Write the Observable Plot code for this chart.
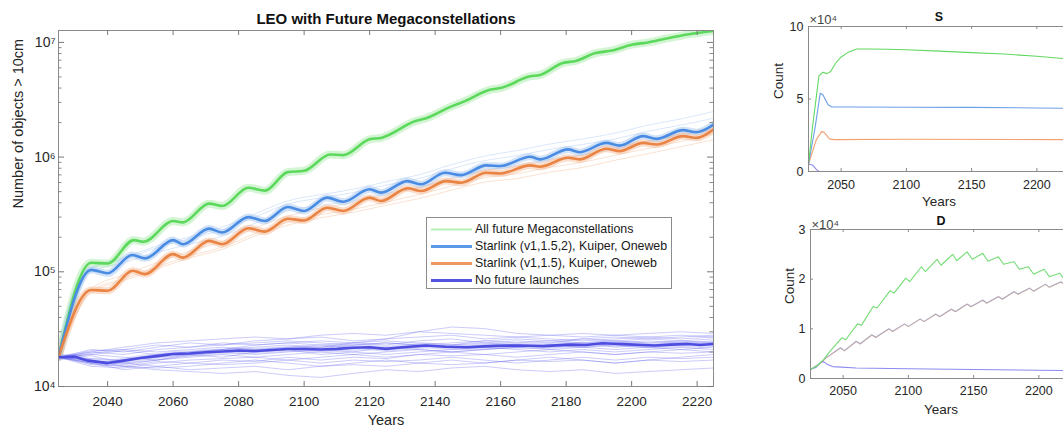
<!DOCTYPE html>
<html><head><meta charset="utf-8">
<script src="https://cdn.jsdelivr.net/npm/d3@7"></script>
<script src="https://cdn.jsdelivr.net/npm/@observablehq/plot@0.6"></script>
<style>
html,body{margin:0;padding:0;background:#fff;overflow:hidden;}
#root{position:relative;width:1063px;height:428px;overflow:hidden;font-family:"Liberation Sans",Arial,sans-serif;}
.pane{position:absolute;}
.pane svg{max-width:none !important;display:block;}
.legend{position:absolute;left:426px;top:217px;width:246px;height:72px;border:1px solid #8c8c8c;background:#fff;box-sizing:border-box;font-size:12.4px;color:#1a1a1a;}
.legend .row{position:absolute;left:4px;height:17px;line-height:17px;white-space:nowrap;display:flex;align-items:center;}
.legend .row svg{margin-right:3px;}
</style></head><body><div id="root"></div>
<script>
// ---------- DATA: main chart (LEO with Future Megaconstellations) ----------
const greenYears  = [2025,2035,2040,2048,2051,2060,2063,2071,2075,2083,2088,2095,2100,2108,2112,2120,2123.5,2134,2137,2145,2148.5,2157,2160,2169,2172,2179,2183,2189,2194,2200,2205,2210,2217,2225];
const greenValues = [1.8e4,1.2e5,1.18e5,1.89e5,1.83e5,2.77e5,2.7e5,3.93e5,3.75e5,5.4e5,5.1e5,7.4e5,7.6e5,1.055e6,1.04e6,1.43e6,1.47e6,2.06e6,2.17e6,2.77e6,3.03e6,3.88e6,4.0e6,5.06e6,5.2e6,6.6e6,6.9e6,8.07e6,8.5e6,9.55e6,1.0e7,1.07e7,1.17e7,1.26e7];

const blueYears  = [2025,2035,2040,2047.5,2051.5,2060,2063,2071,2075,2083,2088,2095,2100,2107,2112,2120,2123.5,2131.5,2135.7,2143,2148,2155.6,2160,2169,2172,2180.6,2184,2192.3,2196.3,2203.5,2207.6,2215.7,2219.8,2225];
const blueValues = [1.8e4,1.04e5,9.7e4,1.4e5,1.31e5,1.89e5,1.74e5,2.38e5,2.2e5,3.0e5,2.77e5,3.67e5,3.39e5,4.43e5,4.08e5,5.24e5,4.9e5,6.18e5,5.79e5,7.31e5,6.97e5,8.47e5,8.36e5,1.007e6,9.55e5,1.167e6,1.104e6,1.33e6,1.26e6,1.524e6,1.442e6,1.718e6,1.648e6,1.92e6];

const orangeYears  = [2025,2035,2040,2047.7,2051.4,2060,2063,2071,2075,2083,2088,2095,2100,2107,2112,2120,2123.5,2131.6,2135.7,2143.3,2148,2155.6,2160,2169,2172,2180.6,2184,2192.3,2196.3,2203.5,2207.6,2215.7,2219.8,2225];
const orangeValues = [1.8e4,6.93e4,6.84e4,1.02e5,9.55e4,1.426e5,1.33e5,1.86e5,1.74e5,2.4e5,2.24e5,2.9e5,2.8e5,3.62e5,3.39e5,4.43e5,4.14e5,5.35e5,5.06e5,6.18e5,5.98e5,7.31e5,7.2e5,8.47e5,8.24e5,9.86e5,9.55e5,1.183e6,1.127e6,1.33e6,1.288e6,1.524e6,1.472e6,1.74e6];

const purpleYears  = [2025,2030,2034,2040,2045,2050,2055,2060,2065,2070,2075,2080,2085,2090,2095,2100,2105,2110,2115,2120,2125,2130,2137,2143,2150,2158,2166,2173,2181,2186,2191,2199,2207,2212,2217,2221,2225];
const purpleValues = [1.8e4,1.82e4,1.68e4,1.6e4,1.68e4,1.77e4,1.84e4,1.92e4,1.94e4,1.99e4,2.02e4,2.06e4,2.04e4,2.08e4,2.12e4,2.13e4,2.1e4,2.13e4,2.18e4,2.2e4,2.13e4,2.2e4,2.28e4,2.22e4,2.2e4,2.26e4,2.28e4,2.25e4,2.32e4,2.3e4,2.38e4,2.33e4,2.28e4,2.32e4,2.35e4,2.3e4,2.35e4];

// individual Monte-Carlo runs (faint lines), read approximately
const ensYears = [2025,2035,2045,2055,2065,2075,2085,2095,2105,2115,2125,2135,2145,2155,2165,2175,2185,2195,2205,2215,2225];
const blueRuns = [
  [1.8e4,1.08e5,1.33e5,1.68e5,2.02e5,2.45e5,3.2e5,4.15e5,4.7e5,5.25e5,6.1e5,7.0e5,8.6e5,1.02e6,1.14e6,1.3e6,1.44e6,1.62e6,1.9e6,2.15e6,2.5e6],
  [1.8e4,1.06e5,1.29e5,1.62e5,1.95e5,2.32e5,3.0e5,3.9e5,4.4e5,4.9e5,5.7e5,6.5e5,7.9e5,9.3e5,1.03e6,1.17e6,1.29e6,1.44e6,1.68e6,1.9e6,2.18e6],
  [1.8e4,1.0e5,1.2e5,1.47e5,1.74e5,2.05e5,2.65e5,3.4e5,3.8e5,4.15e5,4.8e5,5.45e5,6.6e5,7.7e5,8.5e5,9.6e5,1.05e6,1.17e6,1.37e6,1.54e6,1.76e6]
];
const orangeRuns = [
  [1.8e4,6.6e4,8.4e4,1.06e5,1.32e5,1.57e5,2.05e5,2.55e5,2.95e5,3.3e5,3.8e5,4.35e5,5.15e5,6.05e5,6.5e5,7.4e5,8.1e5,9.4e5,1.07e6,1.23e6,1.42e6],
  [1.8e4,6.8e4,8.7e4,1.1e5,1.38e5,1.64e5,2.15e5,2.7e5,3.15e5,3.5e5,4.05e5,4.7e5,5.6e5,6.6e5,7.15e5,8.15e5,9.0e5,1.04e6,1.19e6,1.37e6,1.59e6],
  [1.8e4,7.1e4,9.4e4,1.2e5,1.52e5,1.83e5,2.42e5,3.05e5,3.6e5,4.0e5,4.65e5,5.4e5,6.45e5,7.6e5,8.3e5,9.4e5,1.04e6,1.21e6,1.38e6,1.59e6,1.84e6]
];
// purple runs in thousands of objects
const purpleRunsK = [
  [18,20,22,24,25,26,27,26,28,29,28,30,29,28,27,28,29,28,29,30,29],
  [18,17,15,14,13.5,13,13.5,12.5,12,13,14,13.5,14.5,15,14,13.5,14,13,13.5,14,14.5],
  [18,16,17,19,20,21,22,23,22,24,25,24,23,25,26,25,24,25,26,25,26],
  [18,19,18,17,18,19,18,19,20,19,18,19,20,19,20,21,20,19,20,21,20],
  [18,15,14.5,16,17,17.5,18,17,18,19,20,21,20,21,22,21,22,23,22,21,22],
  [18,21,20,22,24,23,25,26,27,25,26,30,33,32,29,28,27,28,27,26,27],
  [18,16.5,16,15,16,15.5,16,17,16,17,16.5,17,18,17,16,17,18,17,18,17.5,18],
  [18,19.5,21,20,21,22,21,22,23,22,21,22,23,24,23,22,23,24,25,24,25],
  [18,17,15.5,17,18.5,20,19,20,21,20,22,21,20,21,22,23,24,22,23,24,23],
  [18,16,14,15,14,14.5,15,14,15,15.5,15,16,15.5,16,17,16.5,17,16,17,16.5,17],
  [18,20,19,21,22,24,23,24,23,24,23,25,26,24,25,24,26,27,26,27,28],
  [18,17.5,17,18,19,18,20,21,19,20,19,20,21,22,21,20,21,20,21,22,21],
  [18,18.5,16,17,19,21,20,21,22,23,24,23,22,23,22,23,22,21,22,23,24],
  [18,15.5,15,16.5,16,17,16.5,18,17,18,17.5,19,18.5,19,18,19,20,19,20,19.5,20],
  [18,19,20.5,19,20,21,23,24,25,24,26,27,28,26,27,26,25,26,27,28,27],
  [18,16,15,14.5,15,16,17,16,15,16,17,16,17,16,17,18,17,16,17,18,19],
  [18,20.5,21,23,22,23,24,25,24,23,24,23,24,25,24,25,26,25,24,25,24]
];

const xTicksMain = [2040,2060,2080,2100,2120,2140,2160,2180,2200,2220];
const yTicksMain = [1e4,1e5,1e6,1e7];
const legendLabels = ["All future Megaconstellations","Starlink (v1,1.5,2), Kuiper, Oneweb","Starlink (v1,1.5), Kuiper, Oneweb","No future launches"];

// ---------- DATA: S panel ----------
const sGreenYears  = [2025,2028,2033,2036,2039,2042,2046,2050,2055,2062,2070,2085,2100,2125,2150,2175,2200,2225];
const sGreenValues = [5000,30000,66000,68500,67500,69000,75000,79000,82000,84500,84500,84300,84000,83000,82000,81000,79500,77500];
const sBlueYears   = [2025,2030,2034,2036,2040,2043,2060,2100,2150,2200,2225];
const sBlueValues  = [5000,30000,54000,53000,46000,44500,44500,44300,44200,43800,43600];
const sOrangeYears = [2025,2031,2035,2037,2041,2045,2100,2225];
const sOrangeValues= [5000,22000,27500,27000,22500,22000,22200,22000];
const sPurpleYears = [2025,2028,2031,2033,2225];
const sPurpleValues= [5000,4500,1500,0,0];

// ---------- DATA: D panel ----------
const dGreenYears  = [2025,2030,2035,2040,2049,2052,2061,2064,2073,2076,2086,2089,2098,2101,2110,2113,2122,2125,2134,2137,2145,2149,2157,2161,2169,2173,2181,2185,2192,2196,2204,2208,2216,2220,2225];
const dGreenValues = [1800,2500,3800,5500,8200,7800,11000,10700,14500,14200,17700,17200,20200,19500,22500,21500,24000,22800,25000,23700,25500,24000,25200,23600,24500,23000,23500,22000,22500,21000,22000,20500,21200,19800,20500];
const dBlueYears   = [2025,2033,2037,2048,2051,2060,2063,2072,2075,2085,2088,2097,2100,2109,2112,2121,2124,2133,2136,2145,2148,2157,2160,2169,2172,2181,2184,2193,2196,2205,2208,2217,2220,2225];
const dBlueValues  = [1800,3200,4200,6200,5600,7500,7000,8800,8300,10000,9500,11000,10500,12000,11500,13000,12500,14000,13500,15000,14500,15800,15200,16500,16000,17500,17000,18200,17600,19000,18400,19500,18800,19200];
const dOrangeValues= [1800,3150,4150,6150,5550,7450,6950,8750,8250,9950,9450,10950,10450,11950,11450,12950,12450,13950,13450,14950,14450,15750,15150,16450,15950,17450,16950,18150,17550,18950,18350,19450,18750,19150];
const dPurpleYears = [2025,2029,2033,2035,2038,2042,2060,2100,2150,2200,2225];
const dPurpleValues= [1800,2200,3300,3400,2800,2400,2100,1950,1800,1650,1600];

const panelXTicks = [2050,2100,2150,2200];
const sYTicks = [0,50000,100000];
const dYTicks = [0,10000,20000,30000];

// ---------- helpers ----------
const FONT = '"Liberation Sans", Arial, sans-serif';
const rows = (xs, ys, k = 1) => xs.map((x, i) => ({x, y: ys[i] * k}));
const sup = {4:"⁴",5:"⁵",6:"⁶",7:"⁷"};
const C = {green:"#5cd85c", blue:"#4a8be3", orange:"#ea8444", purple:"#4d4de0"};

// ---------- main chart ----------
const W = 720, H = 428, mL = 58, mT = 30, mR = 7, mB = 42;
const iw = W - mL - mR, ih = H - mT - mB;
const yMinor = [];
for (const e of [1e4, 1e5, 1e6]) for (let k = 2; k <= 9; k++) yMinor.push(k * e);

const lineOpts = (stroke, sw, op = 1) => ({x: "x", y: "y", stroke, strokeWidth: sw, strokeOpacity: op, curve: "monotone-x", clip: true});

const main = Plot.plot({
  width: W, height: H, marginLeft: mL, marginTop: mT, marginRight: mR, marginBottom: mB,
  style: {fontFamily: FONT, fontSize: "13.5px", color: "#262626", background: "transparent"},
  x: {domain: [2025, 2225]},
  y: {type: "log", domain: [1e4, 1.27e7]},
  marks: [
    ...purpleRunsK.map(r => Plot.line(rows(ensYears, r, 1000), {...lineOpts("#5f5fee", 0.8, 0.4), curve: "linear"})),
    ...blueRuns.map(r => Plot.line(rows(ensYears, r), lineOpts("#8ab4ee", 0.8, 0.4))),
    ...orangeRuns.map(r => Plot.line(rows(ensYears, r), lineOpts("#f2ae82", 0.8, 0.45))),
    Plot.line(rows(greenYears, greenValues), lineOpts("#9fe89f", 8, 0.45)),
    Plot.line(rows(blueYears, blueValues), lineOpts("#9cc0f0", 7, 0.45)),
    Plot.line(rows(orangeYears, orangeValues), lineOpts("#f5b48c", 7, 0.45)),
    Plot.line(rows(purpleYears, purpleValues), {...lineOpts("#8f8ff2", 6, 0.3), curve: "linear"}),
    Plot.line(rows(greenYears, greenValues), lineOpts(C.green, 2.6)),
    Plot.line(rows(blueYears, blueValues), lineOpts(C.blue, 2.6)),
    Plot.line(rows(orangeYears, orangeValues), lineOpts(C.orange, 2.6)),
    Plot.line(rows(purpleYears, purpleValues), {...lineOpts(C.purple, 2.6), curve: "linear"}),
    Plot.frame({stroke: "#8a8a8a"}),
    Plot.tickX(xTicksMain, {x: d => d, insetTop: ih - 5, stroke: "#777"}),
    Plot.tickX(xTicksMain, {x: d => d, insetBottom: ih - 5, stroke: "#777"}),
    Plot.tickY(yTicksMain, {y: d => d, insetRight: iw - 6, stroke: "#777"}),
    Plot.tickY(yTicksMain, {y: d => d, insetLeft: iw - 6, stroke: "#777"}),
    Plot.tickY(yMinor, {y: d => d, insetRight: iw - 3.5, stroke: "#888"}),
    Plot.tickY(yMinor, {y: d => d, insetLeft: iw - 3.5, stroke: "#888"}),
    Plot.axisX({ticks: xTicksMain, tickSize: 0, tickPadding: 10, tickFormat: d => String(d), label: null, fontSize: 13.5}),
    Plot.axisY({ticks: yTicksMain, tickSize: 0, tickPadding: 3, tickFormat: d => "10" + sup[Math.round(Math.log10(d))], label: null, fontSize: 14}),
    Plot.text(["LEO with Future Megaconstellations"], {text: d => d, frameAnchor: "top", lineAnchor: "bottom", dy: -7, fontWeight: "bold", fontSize: 15, fill: "#111"}),
    Plot.text(["Years"], {text: d => d, frameAnchor: "bottom", lineAnchor: "middle", dy: 34, fontSize: 14.5}),
    Plot.text(["Number of objects > 10cm"], {text: d => d, frameAnchor: "left", rotate: -90, dx: -40, fontSize: 14.5})
  ]
});

// ---------- small panels ----------
function panel({title, yDomain, yTicks, series, mLeft, mTop, mRight, mBottom, countDx, xPad, yearsDy, titleDy, expDy}) {
  const w = 320, h = 214;
  const ihp = h - mTop - mBottom, iwp = w - mLeft - mRight;
  return Plot.plot({
    width: w, height: h, marginLeft: mLeft, marginTop: mTop, marginRight: mRight, marginBottom: mBottom,
    style: {fontFamily: FONT, fontSize: "12.5px", color: "#262626", background: "transparent"},
    x: {domain: [2025, 2225]},
    y: {domain: yDomain},
    marks: [
      ...series.map(s => Plot.line(rows(s.x, s.y), {x: "x", y: "y", stroke: s.c, strokeWidth: 1.1, strokeOpacity: s.o ?? 1, curve: "linear", clip: true})),
      Plot.frame({stroke: "#8a8a8a"}),
      Plot.tickX(panelXTicks, {x: d => d, insetTop: ihp - 3, stroke: "#888"}),
      Plot.tickX(panelXTicks, {x: d => d, insetBottom: ihp - 3, stroke: "#888"}),
      Plot.tickY(yTicks, {y: d => d, insetRight: iwp - 3, stroke: "#888"}),
      Plot.axisX({ticks: panelXTicks, tickSize: 0, tickPadding: xPad, tickFormat: d => String(d), label: null, fontSize: 12.5}),
      Plot.axisY({ticks: yTicks, tickSize: 0, tickPadding: 5, tickFormat: d => String(d / 10000), label: null, fontSize: 12.5}),
      Plot.text([title], {text: d => d, frameAnchor: "top", lineAnchor: "bottom", dy: titleDy, fontWeight: "bold", fontSize: 12.5, fill: "#111"}),
      Plot.text(["×10⁴"], {text: d => d, frameAnchor: "top-left", textAnchor: "start", lineAnchor: "bottom", dx: 1, dy: expDy, fontSize: 13, fill: "#444"}),
      Plot.text(["Years"], {text: d => d, frameAnchor: "bottom", lineAnchor: "middle", dy: yearsDy, fontSize: 13.5}),
      Plot.text(["Count"], {text: d => d, frameAnchor: "left", rotate: -90, dx: countDx, fontSize: 13.5})
    ]
  });
}

const sPanel = panel({
  title: "S", yDomain: [0, 100000], yTicks: sYTicks,
  mLeft: 48, mTop: 26, mRight: 11, mBottom: 43, countDx: -30, xPad: 9, yearsDy: 30, titleDy: -6, expDy: -3,
  series: [
    {x: sPurpleYears, y: sPurpleValues, c: "#8a8af0"},
    {x: sOrangeYears, y: sOrangeValues, c: "#f2a070"},
    {x: sBlueYears, y: sBlueValues, c: "#6d9fe6"},
    {x: sGreenYears, y: sGreenValues, c: "#62d862"}
  ]
});
const dPanel = panel({
  title: "D", yDomain: [0, 30000], yTicks: dYTicks,
  mLeft: 50, mTop: 15, mRight: 9, mBottom: 50, countDx: -21, xPad: 8, yearsDy: 31, titleDy: -5, expDy: -1,
  series: [
    {x: dPurpleYears, y: dPurpleValues, c: "#8a8af0"},
    {x: dBlueYears, y: dOrangeValues, c: "#e89a6a", o: 0.75},
    {x: dBlueYears, y: dBlueValues, c: "#7d9ee0", o: 0.55},
    {x: dGreenYears, y: dGreenValues, c: "#74dc74"}
  ]
});

// ---------- assemble ----------
const root = document.getElementById("root");
function place(el, left, top, w, h) {
  const d = document.createElement("div");
  d.className = "pane";
  d.style.left = left + "px"; d.style.top = top + "px";
  d.style.width = w + "px"; d.style.height = h + "px";
  el.style.maxWidth = "none";
  d.appendChild(el); root.appendChild(d);
}
place(main, 0, 0, 720, 428);
place(sPanel, 760, 0, 320, 214);
place(dPanel, 760, 214, 320, 214);

// legend (inside main axes)
const legend = document.createElement("div");
legend.className = "legend";
const legStyles = [{c: "#b4efb4", w: 2.2}, {c: "#5b9ae8", w: 3}, {c: "#ee9660", w: 3}, {c: "#5252e0", w: 3}];
const centers = [11.5, 28.5, 45.5, 62.5];
legendLabels.forEach((lab, i) => {
  const row = document.createElement("div");
  row.className = "row";
  row.style.top = (centers[i] - 8.5) + "px";
  row.innerHTML = `<svg width="41" height="17"><line x1="0" x2="41" y1="8.5" y2="8.5" stroke="${legStyles[i].c}" stroke-width="${legStyles[i].w}"/></svg><span>${lab}</span>`;
  legend.appendChild(row);
});
root.appendChild(legend);
</script></body></html>
